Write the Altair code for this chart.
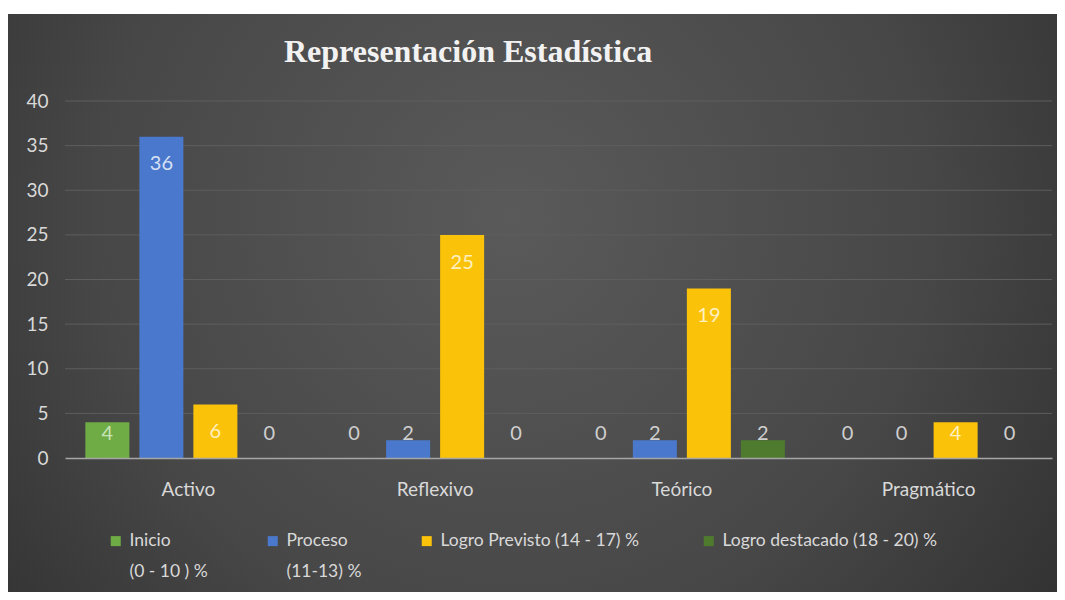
import altair as alt
import pandas as pd

# ---- data ----
categories = ["Activo", "Reflexivo", "Teórico", "Pragmático"]
series = [
    "Inicio\n(0 - 10 ) %",
    "Proceso\n(11-13) %",
    "Logro Previsto (14 - 17)  %",
    "Logro destacado (18 - 20) %",
]
inicio = [4, 0, 0, 0]
proceso = [36, 2, 2, 0]
logro_previsto = [6, 25, 19, 4]
logro_destacado = [0, 0, 2, 0]
y_ticks = [0, 5, 10, 15, 20, 25, 30, 35, 40]
title_text = "Representación Estadística"

rows = []
for s, vals in zip(series, [inicio, proceso, logro_previsto, logro_destacado]):
    for c, v in zip(categories, vals):
        rows.append({"estilo": c, "nivel": s, "valor": v})
df = pd.DataFrame(rows)
grid_df = pd.DataFrame({"valor": y_ticks[1:]})

# ---- layout / style ----
W, H = 987, 357
PL, PT, PR, PB = 57, 93, 5, 134
bar_colors = ["#6fac46", "#4a78cc", "#fbc20a", "#4f7b2e"]
FONT = "Lato"

x_axis = alt.Axis(
    title=None, labelAngle=0, ticks=False, grid=False, zindex=1,
    domainColor="#a6a6a6", domainWidth=1.5,
    labelFont=FONT, labelFontSize=19, labelColor="#d9d9d9", labelPadding=22,
)
y_axis = alt.Axis(
    title=None, values=y_ticks, domain=False, ticks=False, tickSize=0,
    grid=False, zindex=1,
    labelFont=FONT, labelFontSize=19, labelColor="#d9d9d9", labelPadding=17,
)
x_scale = alt.Scale(paddingInner=0.165, paddingOuter=0.0825)
xo_scale = alt.Scale(paddingInner=0.185, paddingOuter=0)
y_scale = alt.Scale(domain=[0, 40], nice=False)

background = (
    alt.Chart(alt.Data(values=[{}]))
    .mark_rect(
        fill={
            "gradient": "radial",
            "x1": 0.48, "y1": 0.42, "r1": 0,
            "x2": 0.48, "y2": 0.42, "r2": 0.72,
            "stops": [
                {"offset": 0, "color": "#5a5a5a"},
                {"offset": 0.55, "color": "#474747"},
                {"offset": 1, "color": "#2b2b2b"},
            ],
        }
    )
    .encode(
        x=alt.value(-PL), x2=alt.value(W + PR),
        y=alt.value(-PT + 6), y2=alt.value(H + PB),
    )
)

gridlines = (
    alt.Chart(grid_df)
    .mark_rule(color="#5e5e5e", strokeWidth=1)
    .encode(y=alt.Y("valor:Q", scale=y_scale, axis=y_axis))
)

bars = (
    alt.Chart(df)
    .mark_bar()
    .encode(
        x=alt.X("estilo:N", sort=categories, scale=x_scale, axis=x_axis),
        xOffset=alt.XOffset("nivel:N", sort=series, scale=xo_scale),
        y=alt.Y("valor:Q", scale=y_scale, axis=y_axis),
        color=alt.Color(
            "nivel:N",
            sort=series,
            scale=alt.Scale(domain=series, range=bar_colors),
            legend=alt.Legend(
                title=None, orient="none", legendX=42, legendY=431,
                direction="horizontal", columns=4, gridAlign="each",
                columnPadding=56, padding=0,
                symbolType="square", symbolSize=100, symbolStrokeWidth=0,
                labelFont=FONT, labelFontSize=17.5, labelColor="#d9d9d9",
                labelOffset=5, labelLimit=400,
                labelExpr=(
                    "indexof(datum.label, '\\n') >= 0 ? "
                    "split(datum.label, '\\n') : [datum.label, '']"
                ),
            ),
        ),
    )
)

labels = (
    alt.Chart(df)
    .transform_calculate(
        pos="max(datum.valor - 3.1, 2.7)",
        tint=(
            "datum.valor < 4 ? '#cfcfcf' : "
            "indexof(datum.nivel, 'Inicio') == 0 ? '#c8e3b5' : "
            "indexof(datum.nivel, 'Proceso') == 0 ? '#d6e1f5' : "
            "indexof(datum.nivel, 'Previsto') >= 0 ? '#fff0c2' : '#c8e3b5'"
        ),
    )
    .mark_text(font=FONT, fontSize=20, baseline="middle", align="center")
    .encode(
        x=alt.X("estilo:N", sort=categories, scale=x_scale, axis=x_axis),
        xOffset=alt.XOffset("nivel:N", sort=series, scale=xo_scale),
        y=alt.Y("pos:Q", scale=y_scale, axis=y_axis),
        text=alt.Text("valor:Q"),
        color=alt.Color("tint:N", scale=None),
    )
)

chart = (
    alt.layer(background, gridlines, bars, labels)
    .properties(
        width=W,
        height=H,
        padding={"left": PL, "top": PT, "right": PR, "bottom": PB},
        autosize=alt.AutoSizeParams(type="none"),
        background="#ffffff",
        title=alt.TitleParams(
            text=title_text, anchor="start", frame="group", dx=219, offset=-80,
            baseline="alphabetic",
            font="Liberation Serif", fontSize=32, fontWeight="bold", color="#f2f2f2",
        ),
    )
    .configure(style={"guide-label": {"lineHeight": 31}})
    .configure_view(stroke=None)
)

chart.save("out.html", embed_options={"renderer": "svg", "actions": False})
